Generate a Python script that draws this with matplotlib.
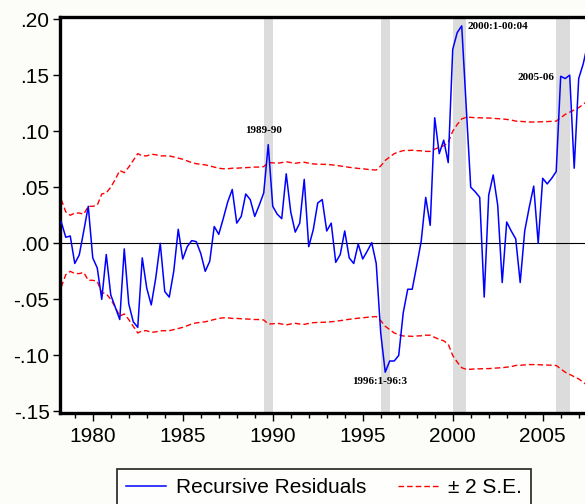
import matplotlib.pyplot as plt
import numpy as np
from matplotlib.ticker import MultipleLocator, FuncFormatter

# quarterly observations, 1978Q2 .. 2007Q3
start_year = 1978.25
resid = [
    0.019, 0.0054, 0.0065, -0.018, -0.0104, 0.011, 0.033,            # 1978-79
    -0.013, -0.022, -0.050, -0.010,                                   # 1980
    -0.046, -0.057, -0.068, -0.005,                                   # 1981
    -0.054, -0.070, -0.075, -0.013,                                   # 1982
    -0.040, -0.055, -0.031, 0.000,                                    # 1983
    -0.043, -0.048, -0.025, 0.0125,                                   # 1984
    -0.014, -0.003, 0.0024, 0.0015,                                   # 1985
    -0.009, -0.025, -0.016, 0.015,                                    # 1986
    0.008, 0.022, 0.037, 0.048,                                       # 1987
    0.018, 0.024, 0.044, 0.039,                                       # 1988
    0.024, 0.034, 0.045, 0.088,                                       # 1989
    0.033, 0.026, 0.022, 0.062,                                       # 1990
    0.028, 0.010, 0.018, 0.057,                                       # 1991
    -0.003, 0.012, 0.036, 0.039,                                      # 1992
    0.011, 0.018, -0.017, -0.010,                                     # 1993
    0.011, -0.013, -0.018, -0.0006,                                   # 1994
    -0.014, -0.007, 0.0006, -0.018,                                   # 1995
    -0.080, -0.115, -0.105, -0.105,                                   # 1996
    -0.100, -0.062, -0.041, -0.041,                                   # 1997
    -0.020, 0.002, 0.041, 0.016,                                      # 1998
    0.112, 0.080, 0.092, 0.072,                                       # 1999
    0.173, 0.188, 0.194, 0.122,                                       # 2000
    0.050, 0.046, 0.041, -0.048,                                      # 2001
    0.043, 0.061, 0.034, -0.035,                                      # 2002
    0.019, 0.011, 0.004, -0.035,                                      # 2003
    0.011, 0.032, 0.051, 0.000,                                       # 2004
    0.058, 0.053, 0.058, 0.064,                                       # 2005
    0.149, 0.147, 0.150, 0.067,                                       # 2006
    0.147, 0.160, 0.178,                                              # 2007
]
two_se = [
    0.039, 0.028, 0.025, 0.027, 0.027, 0.026, 0.033,
    0.033, 0.034, 0.044, 0.045,
    0.050, 0.057, 0.065, 0.063,
    0.068, 0.074, 0.080, 0.078,
    0.078, 0.0795, 0.079, 0.078,
    0.078, 0.078, 0.077, 0.076,
    0.075, 0.0735, 0.072, 0.071,
    0.0705, 0.070, 0.069, 0.068,
    0.067, 0.0665, 0.0665, 0.067,
    0.067, 0.0673, 0.0675, 0.0677,
    0.068, 0.068, 0.0684, 0.072,
    0.0718, 0.0714, 0.072, 0.0728,
    0.072, 0.0714, 0.072, 0.0723,
    0.0715, 0.0708, 0.0706, 0.0705,
    0.0703, 0.070, 0.0696, 0.069,
    0.0684, 0.0678, 0.0673, 0.0668,
    0.0665, 0.066, 0.0656, 0.0654,
    0.069, 0.074, 0.077, 0.080,
    0.0815, 0.0827, 0.0828, 0.083,
    0.0827, 0.0825, 0.082, 0.082,
    0.084, 0.0856, 0.087, 0.090,
    0.100, 0.106, 0.111, 0.1124,
    0.1124, 0.112, 0.112, 0.1118,
    0.1118, 0.1115, 0.1112, 0.111,
    0.1105, 0.110, 0.109, 0.1088,
    0.1085, 0.1082, 0.1082, 0.1083,
    0.1085, 0.1086, 0.1088, 0.109,
    0.112, 0.115, 0.117, 0.119,
    0.121, 0.124, 0.127,
]
years = start_year + 0.25 * np.arange(len(resid))

# dummy periods (shaded)
shade_spans = [(1989.5, 1990.0), (1996.0, 1996.5), (2000.0, 2000.75), (2005.75, 2006.5)]
notes = ["1989-90", "1996:1-96:3", "2000:1-00:04", "2005-06"]
note_pos = [(1989.5, 0.101), (1995.97, -0.123), (2000.8, 0.193), (2005.65, 0.148)]
note_ha = ["center", "center", "left", "right"]

plt.rcParams['font.family'] = ['Liberation Sans', 'DejaVu Sans']

fig = plt.figure(figsize=(5.85, 5.04), dpi=100, facecolor='#fcfcf8')
ax = fig.add_axes([60 / 585, 1 - 413 / 504, 1 - 60 / 585, (413 - 17) / 504])
ax.set_facecolor('white')

for a, b in shade_spans:
    ax.axvspan(a, b, color='#dcdcdc', lw=0, zorder=0)

ax.axhline(0, color='black', lw=0.8, zorder=1)
ax.plot(years, resid, color='#0000ff', lw=1.1, zorder=3, label='Recursive Residuals')
ax.plot(years, two_se, color='#ff0000', lw=1.0, dashes=(4, 2.2), zorder=2, label='\u00b1 2 S.E.')
ax.plot(years, -np.array(two_se), color='#ff0000', lw=1.0, dashes=(4, 2.2), zorder=2)

for txt, (x, y), ha in zip(notes, note_pos, note_ha):
    ax.text(x, y, txt, ha=ha, va='center', fontsize=8, fontweight='bold',
            family=['Liberation Serif', 'DejaVu Serif'])

ax.set_xlim(1978.18, 2007.35)
ax.set_ylim(-0.1514, 0.2019)

ax.xaxis.set_major_locator(MultipleLocator(5))
ax.xaxis.set_minor_locator(MultipleLocator(1))
ax.yaxis.set_major_locator(MultipleLocator(0.05))
ax.yaxis.set_major_formatter(FuncFormatter(lambda v, p: ('%.2f' % v).replace('0.', '.')))

ax.tick_params(axis='x', which='major', length=6, width=1, pad=4, labelsize=15, direction='out')
ax.tick_params(axis='x', which='minor', length=3.5, width=1, direction='out')
ax.tick_params(axis='y', which='major', length=5, width=1, pad=2.5, labelsize=15, direction='out')

for s in ['left', 'bottom', 'top']:
    ax.spines[s].set_linewidth(2.4)
ax.spines['right'].set_visible(False)

leg = fig.legend(loc='upper left', bbox_to_anchor=(117 / 585, 1 - 469 / 504), ncol=2,
                 fontsize=15, frameon=True, fancybox=False, edgecolor='black',
                 handlelength=1.9, handletextpad=0.5, columnspacing=1.5, borderpad=0.45,
                 borderaxespad=0)
leg.get_frame().set_linewidth(1.3)

fig.savefig('out.png', dpi=100, facecolor=fig.get_facecolor())
